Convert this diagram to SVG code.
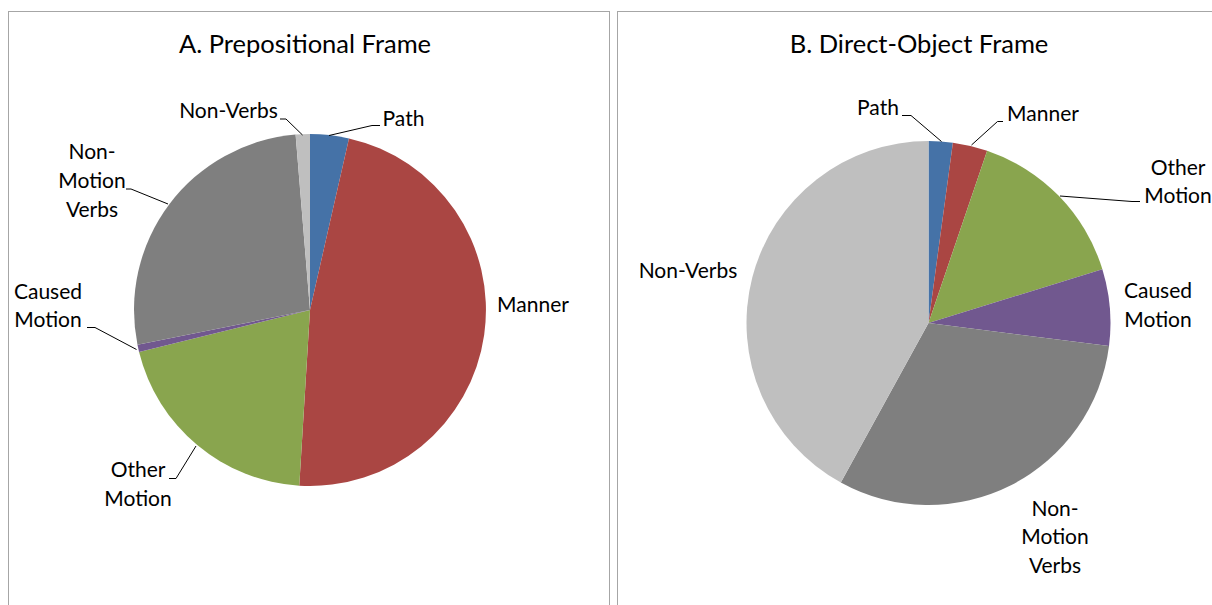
<svg xmlns="http://www.w3.org/2000/svg" width="1212" height="605" viewBox="0 0 1212 605">
<style>
.frame{fill:#fff;stroke:#a6a6a6;stroke-width:1}
.t{font-family:Lato,"Liberation Sans",sans-serif;fill:#000;text-anchor:middle}
.title{font-size:25.5px}
.lbl{font-size:21px}
.lead{fill:none;stroke:#000;stroke-width:1}
.path{fill:#4572a7}.manner{fill:#aa4643}.other{fill:#89a54e}.caused{fill:#71588f}.nonmotion{fill:#7f7f7f}.nonverbs{fill:#bfbfbf}
</style>
<rect width="1212" height="605" fill="#fff"/>
<rect class="frame" x="8.5" y="11.5" width="601" height="600"/>
<rect class="frame" x="617.5" y="11.5" width="600" height="600"/>

<g id="chartA">
<text class="t title" x="305" y="53">A. Prepositional Frame</text>
<g id="A-path"><path class="path" d="M310,310 L310,134 A176,176 0 0 1 348.99,138.38 Z"/></g>
<g id="A-manner"><path class="manner" d="M310,310 L348.99,138.38 A176,176 0 0 1 299.26,485.67 Z"/></g>
<g id="A-other"><path class="other" d="M310,310 L299.26,485.67 A176,176 0 0 1 139.08,351.98 Z"/></g>
<g id="A-caused"><path class="caused" d="M310,310 L139.08,351.98 A176,176 0 0 1 137.47,344.79 Z"/></g>
<g id="A-nonmotion"><path class="nonmotion" d="M310,310 L137.47,344.79 A176,176 0 0 1 295.58,134.59 Z"/></g>
<g id="A-nonverbs"><path class="nonverbs" d="M310,310 L295.58,134.59 A176,176 0 0 1 310,134 Z"/></g>
<g id="A-labels">
<text class="t lbl" x="228.5" y="118">Non-Verbs</text>
<text class="t lbl" x="403.5" y="126">Path</text>
<text class="t lbl" x="533" y="312">Manner</text>
<text class="t lbl" x="92" y="159">Non-</text>
<text class="t lbl" x="92" y="188">Motion</text>
<text class="t lbl" x="92" y="217">Verbs</text>
<text class="t lbl" x="48" y="299">Caused</text>
<text class="t lbl" x="48" y="327">Motion</text>
<text class="t lbl" x="138" y="477">Other</text>
<text class="t lbl" x="138" y="506">Motion</text>
</g>
</g>

<g id="chartB">
<text class="t title" x="919" y="53">B. Direct-Object Frame</text>
<g id="B-path"><path class="path" d="M928.5,323 L928.5,141 A182,182 0 0 1 952.89,142.64 Z"/></g>
<g id="B-manner"><path class="manner" d="M928.5,323 L952.89,142.64 A182,182 0 0 1 987.15,150.71 Z"/></g>
<g id="B-other"><path class="other" d="M928.5,323 L987.15,150.71 A182,182 0 0 1 1102.36,269.18 Z"/></g>
<g id="B-caused"><path class="caused" d="M928.5,323 L1102.36,269.18 A182,182 0 0 1 1109.02,346.12 Z"/></g>
<g id="B-nonmotion"><path class="nonmotion" d="M928.5,323 L1109.02,346.12 A182,182 0 0 1 840.82,482.49 Z"/></g>
<g id="B-nonverbs"><path class="nonverbs" d="M928.5,323 L840.82,482.49 A182,182 0 0 1 928.5,141 Z"/></g>
<g id="B-labels">
<text class="t lbl" x="878" y="115">Path</text>
<text class="t lbl" x="1043" y="121">Manner</text>
<text class="t lbl" x="1178" y="175">Other</text>
<text class="t lbl" x="1178" y="203">Motion</text>
<text class="t lbl" x="1158" y="298">Caused</text>
<text class="t lbl" x="1158" y="327">Motion</text>
<text class="t lbl" x="1055" y="516">Non-</text>
<text class="t lbl" x="1055" y="544">Motion</text>
<text class="t lbl" x="1055" y="573">Verbs</text>
<text class="t lbl" x="688" y="278">Non-Verbs</text>
</g>
</g>

<g id="connectors">
<polyline class="lead" points="280,119 286,119 302.5,135"/>
<polyline class="lead" points="329,135.5 372,125.5 380,125.5"/>
<polyline class="lead" points="126,189 131,189 168,204"/>
<polyline class="lead" points="87,327.5 95,327.5 136.5,349.5"/>
<polyline class="lead" points="169,478.5 176,478.5 196,446"/>
<polyline class="lead" points="902,115.5 911,115.5 941.5,141.5"/>
<polyline class="lead" points="971.5,145 997.5,121.5 1003,121.5"/>
<polyline class="lead" points="1060,196 1132,201.5 1140,201.5"/>
</g>
</svg>
